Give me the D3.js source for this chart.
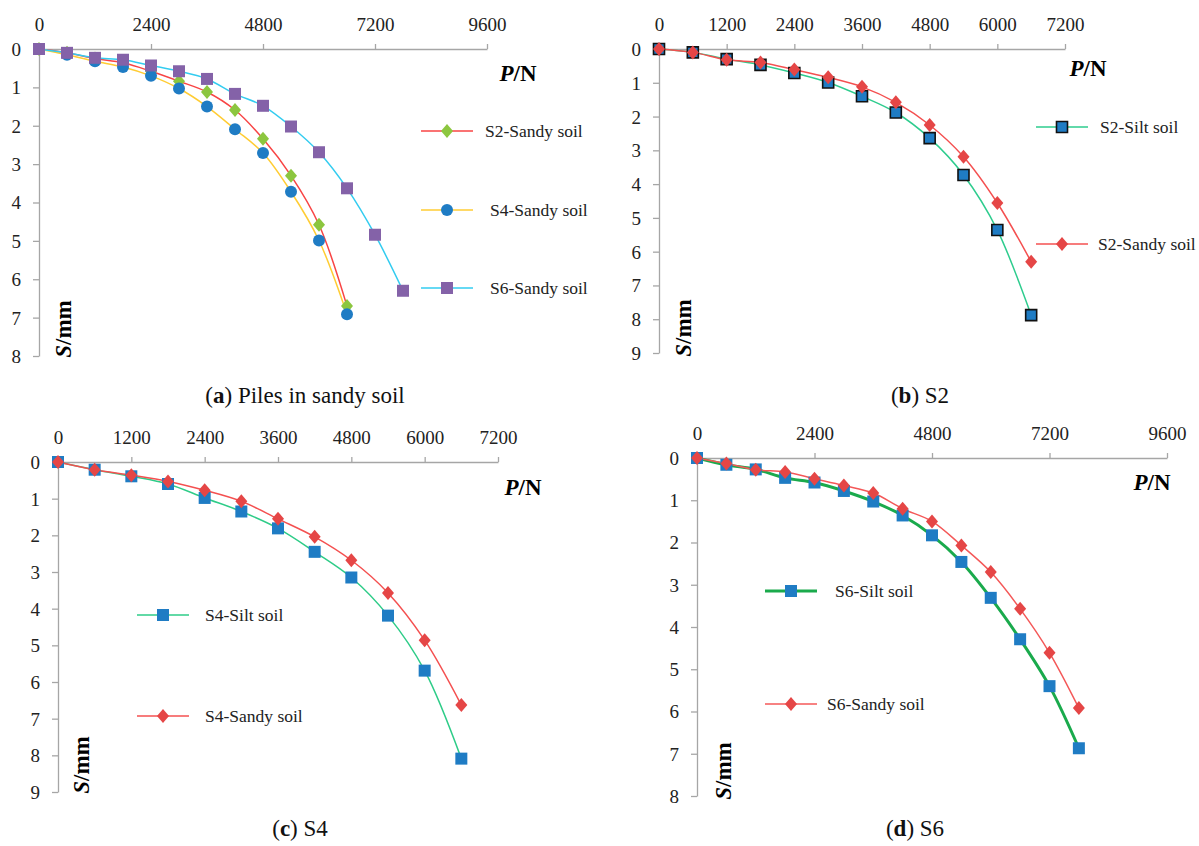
<!DOCTYPE html>
<html>
<head>
<meta charset="utf-8">
<script src="https://cdn.jsdelivr.net/npm/d3@7"></script>
<style>
  body { margin: 0; background: #fff; }
</style>
</head>
<body>
<svg id="chart" width="1199" height="846"></svg>
<script>
// loads (N)
var loads12 = [0, 600, 1200, 1800, 2400, 3000, 3600, 4200, 4800, 5400, 6000, 6600];
var loads14 = [0, 600, 1200, 1800, 2400, 3000, 3600, 4200, 4800, 5400, 6000, 6600, 7200, 7800];

// settlement (mm)
var aS2Sandy = [0, 0.10, 0.25, 0.36, 0.58, 0.84, 1.12, 1.59, 2.34, 3.30, 4.58, 6.70];
var aS4Sandy = [0, 0.15, 0.32, 0.47, 0.70, 1.03, 1.50, 2.09, 2.71, 3.72, 4.99, 6.91];
var aS6Sandy = [0, 0.10, 0.23, 0.28, 0.43, 0.58, 0.78, 1.17, 1.48, 2.02, 2.69, 3.63, 4.84, 6.30];

var bS2Silt  = [0, 0.10, 0.30, 0.47, 0.71, 0.99, 1.40, 1.88, 2.64, 3.73, 5.36, 7.88];
var bS2Sandy = [0, 0.10, 0.32, 0.40, 0.61, 0.84, 1.12, 1.58, 2.25, 3.19, 4.56, 6.30];

var cS4Silt  = [0, 0.21, 0.39, 0.60, 0.98, 1.35, 1.81, 2.45, 3.15, 4.19, 5.69, 8.09];
var cS4Sandy = [0, 0.21, 0.36, 0.53, 0.77, 1.07, 1.55, 2.04, 2.68, 3.57, 4.86, 6.63];

var dS6Silt  = [0, 0.16, 0.27, 0.47, 0.58, 0.78, 1.03, 1.36, 1.83, 2.46, 3.31, 4.29, 5.40, 6.87];
var dS6Sandy = [0, 0.13, 0.28, 0.33, 0.49, 0.65, 0.83, 1.20, 1.50, 2.07, 2.70, 3.57, 4.61, 5.92];

// tick labels
var xTicks9600 = [0, 2400, 4800, 7200, 9600];
var xTicks7200 = [0, 1200, 2400, 3600, 4800, 6000, 7200];
var yTicks8 = [0, 1, 2, 3, 4, 5, 6, 7, 8];
var yTicks9 = [0, 1, 2, 3, 4, 5, 6, 7, 8, 9];

var captions = [["a", " Piles in sandy soil"], ["b", " S2"], ["c", " S4"], ["d", " S6"]];

var FONT = "Liberation Serif";
var svg = d3.select("#chart");

function zip(xs, ys) {
  return xs.map(function(x, i) { return [x, ys[i]]; });
}

function markerPath(shape, size) {
  var h = size / 2;
  if (shape === "diamond") {
    return "M0," + (-h - 1) + "L" + h + ",0L0," + (h + 1) + "L" + (-h) + ",0Z";
  }
  if (shape === "circle") {
    return d3.symbol().type(d3.symbolCircle).size(Math.PI * h * h)();
  }
  return "M" + (-h) + "," + (-h) + "h" + size + "v" + size + "h" + (-size) + "Z";
}

function drawMarker(g, s, x, y) {
  g.append("path")
    .attr("d", markerPath(s.shape, s.size || 12))
    .attr("transform", "translate(" + x + "," + y + ")")
    .attr("fill", s.marker)
    .attr("stroke", s.markerStroke || "none")
    .attr("stroke-width", s.markerStroke ? 1.6 : 0);
}

function drawPanel(p) {
  var x = d3.scaleLinear().domain([0, p.xMax]).range([p.x0, p.x1]);
  var y = d3.scaleLinear().domain([0, p.yMax]).range([p.y0, p.y1]);

  var xAxis = svg.append("g")
    .attr("transform", "translate(0," + p.y0 + ")")
    .call(d3.axisTop(x).tickValues(p.xTicks).tickSize(5).tickSizeOuter(0).tickPadding(13).tickFormat(d3.format("d")));
  var yAxis = svg.append("g")
    .attr("transform", "translate(" + p.x0 + ",0)")
    .call(d3.axisLeft(y).tickValues(p.yTicks).tickSize(6).tickSizeOuter(0).tickPadding(12));

  [xAxis, yAxis].forEach(function(ax) {
    ax.attr("font-family", null).attr("font-size", null);
    ax.selectAll("path, line").attr("stroke", "#a6a6a6").attr("stroke-width", 1.3);
    ax.selectAll("text").attr("fill", "#222")
      .attr("font-family", FONT).attr("font-size", 19);
  });
  yAxis.selectAll("text").attr("dy", "0.34em");

  var line = d3.line()
    .x(function(d) { return x(d[0]); })
    .y(function(d) { return y(d[1]); })
    .curve(d3.curveCatmullRom.alpha(0.5));

  p.series.forEach(function(s) {
    svg.append("path")
      .attr("d", line(s.data))
      .attr("fill", "none")
      .attr("stroke", s.line)
      .attr("stroke-width", s.lineWidth || 1.5);
  });
  p.series.forEach(function(s) {
    var g = svg.append("g");
    s.data.forEach(function(d) { drawMarker(g, s, x(d[0]), y(d[1])); });
  });

  // legend
  p.series.forEach(function(s, i) {
    var lg = p.legend[i];
    svg.append("line")
      .attr("x1", lg.x).attr("x2", lg.x + 52)
      .attr("y1", lg.y).attr("y2", lg.y)
      .attr("stroke", s.line).attr("stroke-width", s.lineWidth || 1.5);
    drawMarker(svg.append("g"), s, lg.x + 26, lg.y);
    svg.append("text")
      .attr("x", lg.tx).attr("y", lg.y)
      .attr("dy", "0.34em")
      .attr("fill", "#222")
      .attr("font-family", FONT)
      .attr("font-size", 17.5)
      .text(s.name);
  });

  // axis titles
  var pn = svg.append("text")
    .attr("x", p.pn[0]).attr("y", p.pn[1])
    .attr("text-anchor", "middle")
    .attr("dy", "0.35em")
    .attr("font-family", FONT)
    .attr("font-size", 23).attr("font-weight", "bold");
  pn.append("tspan").attr("font-style", "italic").text("P");
  pn.append("tspan").text("/N");

  var sm = svg.append("text")
    .attr("transform", "translate(" + p.sm[0] + "," + p.sm[1] + ") rotate(-90)")
    .attr("text-anchor", "middle")
    .attr("dy", "0.35em")
    .attr("font-family", FONT)
    .attr("font-size", 23).attr("font-weight", "bold");
  sm.append("tspan").attr("font-style", "italic").text("S");
  sm.append("tspan").text("/mm");

  // caption
  var cap = svg.append("text")
    .attr("x", p.cap[0]).attr("y", p.cap[1])
    .attr("text-anchor", "middle")
    .attr("dy", "0.35em")
    .attr("fill", "#111")
    .attr("font-family", FONT)
    .attr("font-size", 23);
  cap.append("tspan").text("(");
  cap.append("tspan").attr("font-weight", "bold").text(p.caption[0]);
  cap.append("tspan").text(")" + p.caption[1]);
}

drawPanel({
  x0: 39, x1: 487, y0: 49, y1: 356, xMax: 9600, yMax: 8,
  xTicks: xTicks9600, yTicks: yTicks8,
  series: [
    { name: "S2-Sandy soil", data: zip(loads12, aS2Sandy), line: "#f84444", marker: "#8cc63f", shape: "diamond" },
    { name: "S4-Sandy soil", data: zip(loads12, aS4Sandy), line: "#ffcc33", marker: "#1f7cc4", shape: "circle" },
    { name: "S6-Sandy soil", data: zip(loads14, aS6Sandy), line: "#33ccf0", marker: "#8462a8", shape: "square" }
  ],
  legend: [{ x: 421, y: 131, tx: 485 }, { x: 421, y: 210, tx: 490 }, { x: 421, y: 288, tx: 490 }],
  pn: [518, 73], sm: [63, 329], cap: [305, 395], caption: captions[0]
});

drawPanel({
  x0: 659, x1: 1065, y0: 49, y1: 353, xMax: 7200, yMax: 9,
  xTicks: xTicks7200, yTicks: yTicks9,
  series: [
    { name: "S2-Silt soil", data: zip(loads12, bS2Silt), line: "#2ecc8e", marker: "#1f7cc4", markerStroke: "#111", shape: "square", size: 11 },
    { name: "S2-Sandy soil", data: zip(loads12, bS2Sandy), line: "#f45050", marker: "#e54646", shape: "diamond" }
  ],
  legend: [{ x: 1036, y: 127, tx: 1100 }, { x: 1036, y: 244, tx: 1098 }],
  pn: [1088, 68], sm: [683, 328], cap: [920, 395], caption: captions[1]
});

drawPanel({
  x0: 58, x1: 498, y0: 462, y1: 792, xMax: 7200, yMax: 9,
  xTicks: xTicks7200, yTicks: yTicks9,
  series: [
    { name: "S4-Silt soil", data: zip(loads12, cS4Silt), line: "#2ecc88", marker: "#1f7cc4", shape: "square" },
    { name: "S4-Sandy soil", data: zip(loads12, cS4Sandy), line: "#f45050", marker: "#e54646", shape: "diamond" }
  ],
  legend: [{ x: 137, y: 615, tx: 205 }, { x: 137, y: 716, tx: 205 }],
  pn: [523, 487], sm: [81, 765], cap: [300, 828], caption: captions[2]
});

drawPanel({
  x0: 697, x1: 1167, y0: 458, y1: 796, xMax: 9600, yMax: 8,
  xTicks: xTicks9600, yTicks: yTicks8,
  series: [
    { name: "S6-Silt soil", data: zip(loads14, dS6Silt), line: "#1aaa4c", lineWidth: 3, marker: "#1f7cc4", shape: "square" },
    { name: "S6-Sandy soil", data: zip(loads14, dS6Sandy), line: "#f45858", marker: "#e54646", shape: "diamond" }
  ],
  legend: [{ x: 765, y: 591, tx: 835 }, { x: 765, y: 704, tx: 827 }],
  pn: [1152, 482], sm: [723, 771], cap: [915, 828], caption: captions[3]
});
</script>
</body>
</html>
